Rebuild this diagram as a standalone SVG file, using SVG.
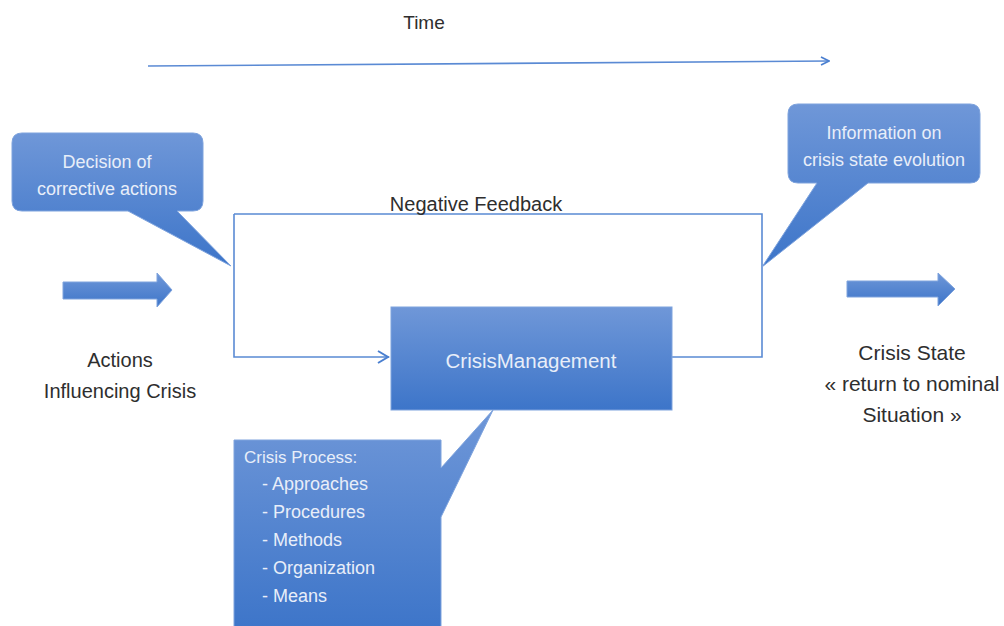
<svg xmlns="http://www.w3.org/2000/svg" width="1004" height="626" viewBox="0 0 1004 626">
<defs>
<linearGradient id="blue" x1="0" y1="0" x2="0" y2="1">
<stop offset="0" stop-color="#6f97d8"/>
<stop offset="1" stop-color="#3d75c9"/>
</linearGradient>
<marker id="open" viewBox="0 0 10 10" refX="9" refY="5" markerWidth="10" markerHeight="10" markerUnits="userSpaceOnUse" orient="auto">
<path d="M1,1 L9,5 L1,9" fill="none" stroke="#4a7fd0" stroke-width="1.6"/>
</marker>
<marker id="open2" viewBox="0 0 14 14" refX="13" refY="7" markerWidth="14" markerHeight="14" markerUnits="userSpaceOnUse" orient="auto">
<path d="M2,1 L12,7 L2,13" fill="none" stroke="#4a7fd0" stroke-width="2"/>
</marker>
</defs>
<style>
.dark{font-family:"Liberation Sans",Arial,sans-serif;fill:#2e2e2e;text-anchor:middle}
.light{font-family:"Liberation Sans",Arial,sans-serif;fill:#e8eef9;}
.shape{fill:url(#blue);stroke:#7ea3dd;stroke-width:1}
.line{fill:none;stroke:#5a8ad4;stroke-width:1.6}
</style>
<rect width="1004" height="626" fill="#ffffff"/>

<g id="time">
<text class="dark" x="424" y="29" font-size="19">Time</text>
</g>

<g id="connectors">
<path class="line" d="M148,66 L829,61" stroke-width="2" marker-end="url(#open)"/>
<path class="line" d="M234,214 L234,357 L389,357" marker-end="url(#open2)"/>
<path class="line" d="M234,214 L762,214 L762,357 L672,357"/>
</g>

<g id="feedback-label">
<text class="dark" x="476" y="211" font-size="20">Negative Feedback</text>
</g>

<g id="decision-callout">
<path class="shape" d="M22,133 L193,133 Q203,133 203,143 L203,201 Q203,211 193,211 L177,211 L231,266 L128,211 L22,211 Q12,211 12,201 L12,143 Q12,133 22,133 Z"/>
<text class="light" x="107" y="168" font-size="18" text-anchor="middle">Decision of</text>
<text class="light" x="107" y="195" font-size="18" text-anchor="middle">corrective actions</text>
</g>

<g id="info-callout">
<path class="shape" d="M798,104 L970,104 Q980,104 980,114 L980,173 Q980,183 970,183 L868,183 L762,267 L817,183 L798,183 Q788,183 788,173 L788,114 Q788,104 798,104 Z"/>
<text class="light" x="884" y="139" font-size="18" text-anchor="middle">Information on</text>
<text class="light" x="884" y="166" font-size="18" text-anchor="middle">crisis state evolution</text>
</g>

<g id="actions">
<path class="shape" d="M63,282 L157,282 L157,273 L172,290 L157,307 L157,299 L63,299 Z"/>
<text class="dark" x="120" y="367" font-size="20">Actions</text>
<text class="dark" x="120" y="398" font-size="20">Influencing Crisis</text>
</g>

<g id="crisis-state">
<path class="shape" d="M847,281 L938,281 L938,273 L955,289 L938,306 L938,297 L847,297 Z"/>
<text class="dark" x="912" y="360" font-size="21">Crisis State</text>
<text class="dark" x="912" y="391" font-size="21">« return to nominal</text>
<text class="dark" x="912" y="422" font-size="21">Situation »</text>
</g>

<g id="crisis-management">
<rect class="shape" x="391" y="307" width="281" height="103"/>
<text class="light" x="531" y="368" font-size="20.5" text-anchor="middle">CrisisManagement</text>
</g>

<g id="crisis-process">
<path class="shape" d="M234,440 L441,440 L441,468 L493,410 L441,517 L441,630 L234,630 Z"/>
<text class="light" x="244" y="463" font-size="17">Crisis Process:</text>
<text class="light" x="262" y="490" font-size="18">- Approaches</text>
<text class="light" x="262" y="518" font-size="18">- Procedures</text>
<text class="light" x="262" y="546" font-size="18">- Methods</text>
<text class="light" x="262" y="574" font-size="18">- Organization</text>
<text class="light" x="262" y="602" font-size="18">- Means</text>
</g>
</svg>
